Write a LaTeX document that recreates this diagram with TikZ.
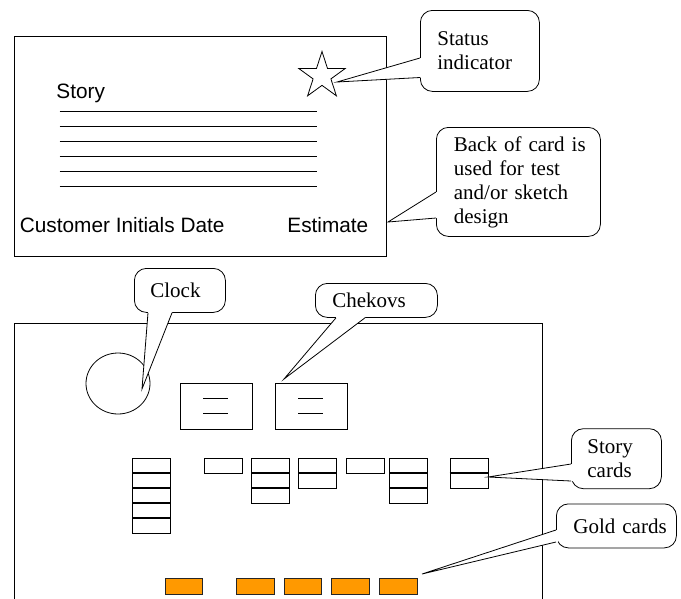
\documentclass[tikz,border=0pt]{standalone}
\usepackage{fontspec}
\newfontfamily\calloutfont{Liberation Serif}
\newfontfamily\cardfont{Liberation Sans}
\usetikzlibrary{calc,shapes.geometric}
\definecolor{goldcard}{HTML}{FF9900}
\begin{document}
\begin{tikzpicture}[x=1pt,y=-1pt,line width=0.8pt,
  callbox/.style={draw,fill=white,rounded corners=12pt,align=left,anchor=north west,
    inner ysep=0pt,font=\calloutfont\fontsize{21}{24}\selectfont},
  cardtext/.style={anchor=base west,inner sep=0pt,font=\cardfont\fontsize{20.8}{24}\selectfont},
  cell/.style={draw,minimum width=38pt,minimum height=15pt,inner sep=0pt,anchor=north west},
  gcard/.style={draw=black!85,fill=goldcard,minimum width=37.6pt,minimum height=15.7pt,inner sep=0pt,anchor=north west},
  chcard/.style={draw,minimum width=71.7pt,minimum height=45.4pt,inner sep=0pt,anchor=north west},
  sep/.style={line width=1.7pt},
  wedge/.style={fill=white,draw=none},
  pointer/.style={draw,line join=miter}]
\useasboundingbox (0,0) rectangle (681,598);
\fill[white] (0,0) rectangle (681,598);

% ---- top card ----
\node[draw,minimum width=372pt,minimum height=220pt,inner sep=0pt,anchor=north west] (card) at (14.3,36) {};
\node[cardtext] (storylbl) at (56,98.3) {Story};
\foreach \k in {0,...,5} \draw (59.6,{111.7+15*\k}) -- (317,{111.7+15*\k});
\node[cardtext] (cust) at (19.5,232.5) {Customer Initials Date};
\node[cardtext] (est) at (287,232.5) {Estimate};
\node[draw,star,star points=5,star point ratio=2.618,minimum size=49pt,inner sep=0pt] (star) at (322,76) {};

% ---- board ----
\draw (14.4,599) -- (14.4,323.3) -- (542,323.3) -- (542,599);
\node[draw,ellipse,minimum width=64pt,minimum height=61pt,inner sep=0pt] (clockface) at (118,383.5) {};
\node[chcard] (ch1) at (180,383.3) {};
\node[chcard] (ch2) at (275,383.3) {};
\foreach \c in {ch1,ch2} {
  \draw ($(\c.north west)+(23.3,15.4)$) -- ++(25,0);
  \draw ($(\c.north west)+(23.3,30.4)$) -- ++(25,0);
}
\foreach \x/\n [count=\i] in {132.3/5,203.7/1,251/3,298.3/2,345.7/1,389.3/3,449.7/2} {
  \foreach \k in {1,...,\n} {
    \node[cell] (s\i-\k) at (\x,{458.3+15*(\k-1)}) {};
    \ifnum\k>1 \draw[sep] (s\i-\k.north west) -- (s\i-\k.north east); \fi
  }
}
\foreach \x [count=\i] in {164.6,236.2,283.8,331.4,379} \node[gcard] (g\i) at (\x,578.3) {};

% ---- callouts ----
% Status indicator
\node[callbox,text width=85pt,inner xsep=17pt,minimum height=81pt] (status) at (420,10) {Status\\indicator};
\coordinate (st1) at ($(status.north west)+(0,48)$);
\coordinate (st2) at ($(status.north west)+(0,67.5)$);
\coordinate (startip) at (337,82);
\fill[wedge] ($(st1)+(2,0)$) -- (st1) -- (startip) -- (st2) -- ($(st2)+(2,0)$) -- cycle;
\draw[pointer] (st1) -- (startip) -- (st2);

% Back of card
\node[callbox,text width=129pt,inner xsep=17.5pt,minimum height=109pt] (back) at (436,127)
  {Back~of~card~is\\used~for~test\\and/or~sketch\\design};
\coordinate (bk1) at ($(back.north west)+(0,65)$);
\coordinate (bk2) at ($(back.north west)+(0,91)$);
\coordinate (bktip) at (388,222);
\fill[wedge] ($(bk1)+(2,0)$) -- (bk1) -- (bktip) -- (bk2) -- ($(bk2)+(2,0)$) -- cycle;
\draw[pointer] (bk1) -- (bktip) -- (bk2);

% Clock
\node[callbox,text width=59pt,inner xsep=16pt,minimum height=44pt] (clock) at (134,268) {Clock};
\coordinate (cl1) at ($(clock.south west)+(14,0)$);
\coordinate (cl2) at ($(clock.south west)+(38,0)$);
\coordinate (cltip) at (142,389);
\fill[wedge] ($(cl1)+(0,-2)$) -- (cl1) -- (cltip) -- (cl2) -- ($(cl2)+(0,-2)$) -- cycle;
\draw[pointer] (cl1) -- (cltip) -- (cl2);

% Chekovs
\node[callbox,text width=88pt,inner xsep=17pt,minimum height=34pt] (chekovs) at (315,283) {Chekovs};
\coordinate (ck1) at ($(chekovs.south west)+(21,0)$);
\coordinate (ck2) at ($(chekovs.south west)+(50,0)$);
\coordinate (cktip) at (284,379);
\fill[wedge] ($(ck1)+(0,-2)$) -- (ck1) -- (cktip) -- (ck2) -- ($(ck2)+(0,-2)$) -- cycle;
\draw[pointer] (ck1) -- (cktip) -- (ck2);

% Story cards
\node[callbox,text width=58pt,inner xsep=16pt,minimum height=60pt] (storycards) at (571,428.3) {Story\\cards};
\coordinate (sc1) at ($(storycards.north west)+(0,35.7)$);
\coordinate (sc2) at ($(storycards.north west)+(0,52.7)$);
\coordinate (sctip) at (488,477);
\fill[wedge] ($(sc1)+(2,0)$) -- (sc1) -- (sctip) -- (sc2) -- ($(sc2)+(2,0)$) -- cycle;
\draw[pointer] (sc1) -- (sctip) -- (sc2);

% Gold cards
\node[callbox,text width=86pt,inner xsep=17pt,minimum height=44pt] (goldcards) at (556,503.5) {Gold~cards};
\coordinate (gc1) at ($(goldcards.north west)+(0,26.5)$);
\coordinate (gc2) at ($(goldcards.north west)+(0,38.5)$);
\coordinate (gctip) at (422,574);
\fill[wedge] ($(gc1)+(2,0)$) -- (gc1) -- (gctip) -- (gc2) -- ($(gc2)+(2,0)$) -- cycle;
\draw[pointer] (gc1) -- (gctip) -- (gc2);
\end{tikzpicture}
\end{document}
